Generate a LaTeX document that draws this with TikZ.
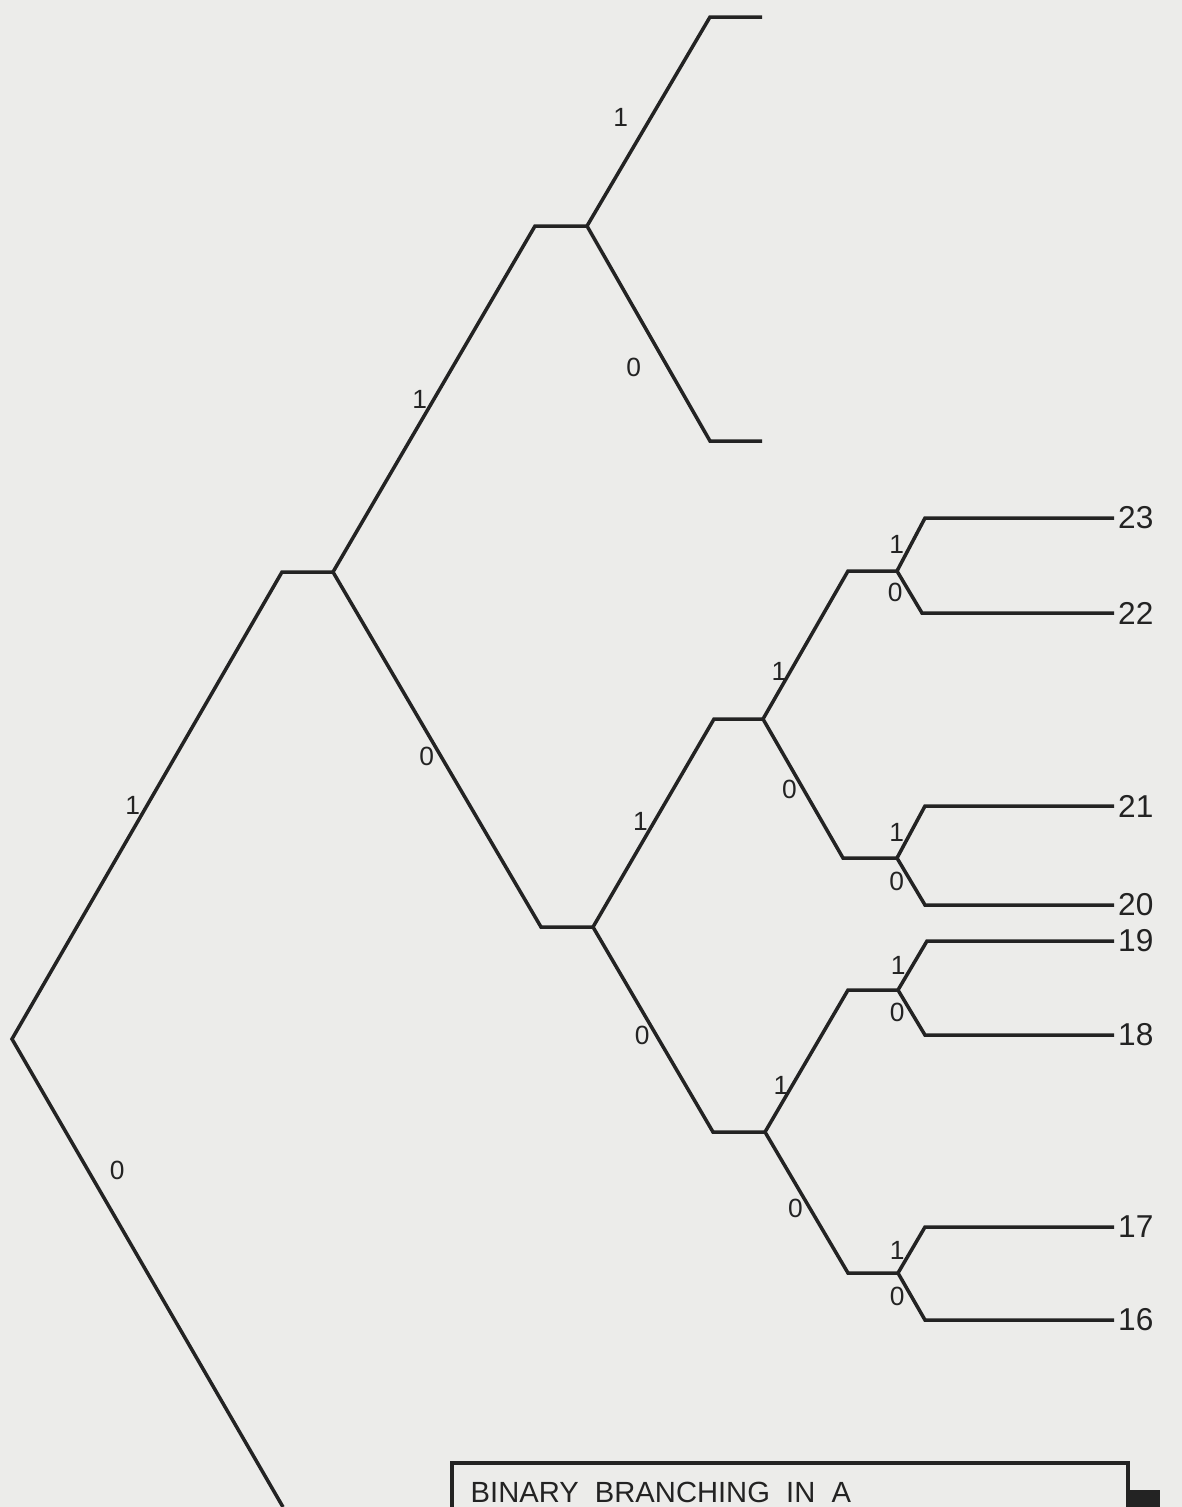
\documentclass[tikz,border=0pt]{standalone}
\usepackage{fontspec}
\setsansfont{Liberation Sans}
\usetikzlibrary{positioning}

\definecolor{paper}{RGB}{236,236,234}
\definecolor{ink}{RGB}{35,35,35}

\begin{document}
\begin{tikzpicture}[x=0.1mm, y=-0.1mm,
    branch/.style={draw=ink, line width=1pt, line join=miter},
    bit/.style={font=\sffamily\fontsize{7.5}{8}\selectfont, text=ink, inner sep=1.5pt},
    tag/.style={font=\sffamily\fontsize{9}{10}\selectfont, text=ink, anchor=west, inner sep=1pt}]

    % Page and paper (pixel units, y downwards)
    \useasboundingbox (0,0) rectangle (1182,1507);
    \fill[paper] (0,0) rectangle (1182,1507);

    % Junctions
    \coordinate (root) at (12,1039);
    \coordinate (rootU) at (282,572);   \coordinate (A) at (333,572);
    \coordinate (rootD) at (283,1507);
    \coordinate (AU) at (535,226);      \coordinate (B) at (587,226);
    \coordinate (AD) at (541,927);      \coordinate (C) at (593,927);
    \coordinate (BU) at (710,17);       \coordinate (BUend) at (762,17);
    \coordinate (BD) at (710,441);      \coordinate (BDend) at (762,441);
    \coordinate (CU) at (714,719);      \coordinate (D) at (763,719);
    \coordinate (CD) at (713,1132);     \coordinate (G) at (765,1132);
    \coordinate (DU) at (848,571);      \coordinate (E) at (897,571);
    \coordinate (DD) at (843,858);      \coordinate (F) at (897,858);
    \coordinate (GU) at (848,990);      \coordinate (H) at (898,990);
    \coordinate (GD) at (848,1273);     \coordinate (I) at (898,1273);

    % Leaf corners
    \coordinate (EU) at (925,518);      \coordinate (ED) at (922,613);
    \coordinate (FU) at (925,806);      \coordinate (FD) at (925,905);
    \coordinate (HU) at (927,941);      \coordinate (HD) at (925,1035);
    \coordinate (IU) at (925,1227);     \coordinate (ID) at (925,1320);

    % Leaf numbers
    \node[tag] (n23) at (1114,518) {23};
    \node[tag] (n22) at (1114,613) {22};
    \node[tag] (n21) at (1114,806) {21};
    \node[tag] (n20) at (1114,905) {20};
    \node[tag] (n19) at (1114,941) {19};
    \node[tag] (n18) at (1114,1035) {18};
    \node[tag] (n17) at (1114,1227) {17};
    \node[tag] (n16) at (1114,1320) {16};

    % Root
    \draw[branch] (A) -- (rootU) -- node[bit, pos=.5, left] (b1) {1} (root)
        -- node[bit, pos=.28, right, xshift=1.5mm] (b0) {0} (rootD);

    % Second level
    \draw[branch] (B) -- (AU) -- node[bit, pos=.5, left] (b11) {1} (A)
        -- node[bit, pos=.52, left] (b10) {0} (AD) -- (C);

    % Third level
    \draw[branch] (BUend) -- (BU) -- node[bit, pos=.48, left, xshift=-1.6mm] (b111) {1} (B)
        -- node[bit, pos=.66, left, xshift=-2mm] (b110) {0} (BD) -- (BDend);
    \draw[branch] (D) -- (CU) -- node[bit, pos=.49, left] (b101) {1} (C)
        -- node[bit, pos=.53, left] (b100) {0} (CD) -- (G);

    % Fourth level
    \draw[branch] (E) -- (DU) -- node[bit, pos=.68, left, xshift=.3mm] (b1011) {1} (D)
        -- node[bit, pos=.51, left] (b1010) {0} (DD) -- (F);
    \draw[branch] (H) -- (GU) -- node[bit, pos=.67, left, xshift=.3mm] (b1001) {1} (G)
        -- node[bit, pos=.54, left] (b1000) {0} (GD) -- (I);

    % Leaves
    \draw[branch] (n23.west) -- (EU) -- node[bit, pos=.5, left] {1} (E)
        -- node[bit, pos=.5, left] {0} (ED) -- (n22.west);
    \draw[branch] (n21.west) -- (FU) -- node[bit, pos=.5, left] {1} (F)
        -- node[bit, pos=.5, left] {0} (FD) -- (n20.west);
    \draw[branch] (n19.west) -- (HU) -- node[bit, pos=.5, left] {1} (H)
        -- node[bit, pos=.5, left] {0} (HD) -- (n18.west);
    \draw[branch] (n17.west) -- (IU) -- node[bit, pos=.5, left] {1} (I)
        -- node[bit, pos=.5, left] {0} (ID) -- (n16.west);

    % Caption box, cut off at the bottom
    \draw[ink, line width=1pt] (452,1507) |- (1128,1463) -- (1128,1507);
    \fill[ink] (1128,1490) rectangle (1160,1507);
    \node[font=\sffamily\fontsize{8.3}{10}\selectfont, text=ink, anchor=base west,
        inner sep=0pt] (title) at (470,1502) {BINARY\ \ BRANCHING\ \ IN\ \ A};

\end{tikzpicture}
\end{document}
